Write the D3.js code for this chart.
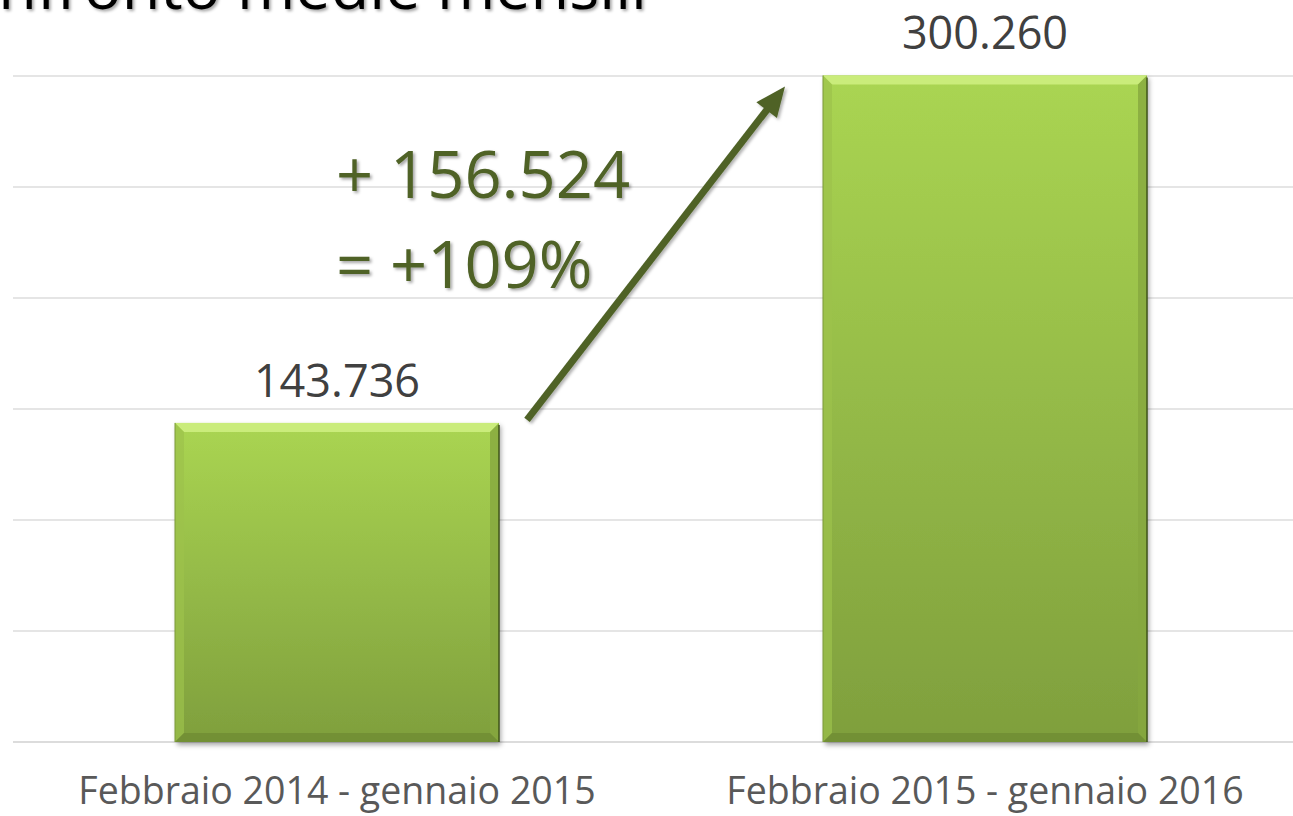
<!DOCTYPE html>
<html>
<head>
<meta charset="utf-8">
<script src="https://cdn.jsdelivr.net/npm/d3@7"></script>
<style>
  html, body { margin: 0; padding: 0; background: #ffffff; overflow: hidden; }
  svg { display: block; }
</style>
</head>
<body>
<script>
// ---- data ----
const title = "Confronto medie mensili";
const categories = ["Febbraio 2014 - gennaio 2015", "Febbraio 2015 - gennaio 2016"];
const values = [143736, 300260];
const valueLabels = ["143.736", "300.260"];
const yTicks = [0, 50000, 100000, 150000, 200000, 250000, 300000];
const annotationLines = ["+ 156.524", "= +109%"];

const W = 1293, H = 816;
const svg = d3.select("body").append("svg").attr("width", W).attr("height", H);
const defs = svg.append("defs");

const x = d3.scaleBand().domain(categories).range([13, 1309]).paddingInner(0.5).paddingOuter(0.25);
const y = d3.scaleLinear().domain([0, 300000]).range([742, 76]);

// gradients & filters
const g1 = defs.append("linearGradient").attr("id", "barGrad").attr("x1", 0).attr("y1", 0).attr("x2", 0).attr("y2", 1);
g1.append("stop").attr("offset", "0%").attr("stop-color", "#aad552");
g1.append("stop").attr("offset", "100%").attr("stop-color", "#7f9f3d");

const sh = defs.append("filter").attr("id", "barShadow").attr("x", "-10%").attr("y", "-10%").attr("width", "130%").attr("height", "130%");
sh.append("feDropShadow").attr("dx", 2).attr("dy", 3).attr("stdDeviation", 2.5).attr("flood-color", "#000").attr("flood-opacity", 0.35);

const ts = defs.append("filter").attr("id", "textShadow").attr("x", "-10%").attr("y", "-20%").attr("width", "130%").attr("height", "150%");
ts.append("feDropShadow").attr("dx", 2).attr("dy", 2).attr("stdDeviation", 1.5).attr("flood-color", "#000").attr("flood-opacity", 0.35);

const as = defs.append("filter").attr("id", "arrowShadow").attr("x", "-20%").attr("y", "-20%").attr("width", "140%").attr("height", "140%");
as.append("feDropShadow").attr("dx", 2).attr("dy", 2).attr("stdDeviation", 1.5).attr("flood-color", "#000").attr("flood-opacity", 0.3);

// title (partially cut off at top)
svg.append("text")
  .attr("x", 647).attr("y", 9)
  .attr("text-anchor", "end")
  .attr("font-family", "Open Sans, sans-serif")
  .attr("font-size", 63)
  .attr("fill", "#000")
  .attr("filter", "url(#textShadow)")
  .text(title);

// gridlines
svg.append("g").selectAll("line").data(yTicks).join("line")
  .attr("x1", 13).attr("x2", W)
  .attr("y1", d => y(d)).attr("y2", d => y(d))
  .attr("stroke", d => d === 0 ? "#d0d0d0" : "#dcdcdc")
  .attr("stroke-width", 1.5);

// bars
const bev = 9;
const bars = svg.append("g").selectAll("g").data(values).join("g");
bars.each(function(v, i) {
  const g = d3.select(this);
  const x0 = x(categories[i]), bw = x.bandwidth();
  const y0 = y(v), y1 = y(0);
  const x1 = x0 + bw;
  g.append("rect").attr("x", x0).attr("y", y0).attr("width", bw).attr("height", y1 - y0)
    .attr("fill", "url(#barGrad)").attr("filter", "url(#barShadow)");
  g.append("polygon").attr("points", [[x0, y0], [x1, y0], [x1 - bev, y0 + bev], [x0 + bev, y0 + bev]].join(" "))
    .attr("fill", "#cdee80").attr("opacity", 0.9);
  g.append("polygon").attr("points", [[x0, y0], [x0 + bev, y0 + bev], [x0 + bev, y1 - bev], [x0, y1]].join(" "))
    .attr("fill", "#9cc24b").attr("opacity", 0.7);
  g.append("polygon").attr("points", [[x1, y0], [x1, y1], [x1 - bev, y1 - bev], [x1 - bev, y0 + bev]].join(" "))
    .attr("fill", "#86a83f").attr("opacity", 0.8);
  g.append("polygon").attr("points", [[x0, y1], [x1, y1], [x1 - bev, y1 - bev], [x0 + bev, y1 - bev]].join(" "))
    .attr("fill", "#6f8c33").attr("opacity", 0.8);
  g.append("line").attr("x1", x1).attr("x2", x1).attr("y1", y0 + 2).attr("y2", y1)
    .attr("stroke", "#3f5518").attr("stroke-width", 1.5);
  g.append("line").attr("x1", x0).attr("x2", x0).attr("y1", y0).attr("y2", y1)
    .attr("stroke", "#7c9a3a").attr("stroke-width", 1);
});

// value labels
svg.append("g").selectAll("text").data(values).join("text")
  .attr("x", (d, i) => x(categories[i]) + x.bandwidth() / 2)
  .attr("y", d => y(d) - 26)
  .attr("text-anchor", "middle")
  .attr("font-family", "Open Sans, sans-serif")
  .attr("font-size", 45)
  .attr("fill", "#404040")
  .text((d, i) => valueLabels[i]);

// category labels
svg.append("g").selectAll("text").data(categories).join("text")
  .attr("x", d => x(d) + x.bandwidth() / 2)
  .attr("y", 804)
  .attr("text-anchor", "middle")
  .attr("font-family", "Open Sans, sans-serif")
  .attr("font-size", 37.5)
  .attr("fill", "#595959")
  .text(d => d);

// arrow
const ax1 = x(categories[0]) + x.bandwidth() + 28, ay1 = y(values[0]) - 3;
const ax2 = x(categories[1]) - 38, ay2 = y(values[1]) + 11;
const ang = Math.atan2(ay2 - ay1, ax2 - ax1);
const headLen = 30, headW = 13;
const bx = ax2 - headLen * Math.cos(ang), by = ay2 - headLen * Math.sin(ang);
const arrowG = svg.append("g").attr("filter", "url(#arrowShadow)");
arrowG.append("line").attr("x1", ax1).attr("y1", ay1).attr("x2", bx + 4 * Math.cos(ang)).attr("y2", by + 4 * Math.sin(ang))
  .attr("stroke", "#4f6228").attr("stroke-width", 7);
arrowG.append("polygon")
  .attr("points", [
    [ax2, ay2],
    [bx + headW * Math.sin(ang), by - headW * Math.cos(ang)],
    [bx - headW * Math.sin(ang), by + headW * Math.cos(ang)]
  ].join(" "))
  .attr("fill", "#4f6228");

// annotation text
svg.append("g").selectAll("text").data(annotationLines).join("text")
  .attr("x", 336)
  .attr("y", (d, i) => 198 + i * 90)
  .attr("font-family", "Open Sans, sans-serif")
  .attr("font-size", 65)
  .attr("fill", "#4f6228")
  .attr("filter", "url(#textShadow)")
  .text(d => d);
</script>
</body>
</html>
